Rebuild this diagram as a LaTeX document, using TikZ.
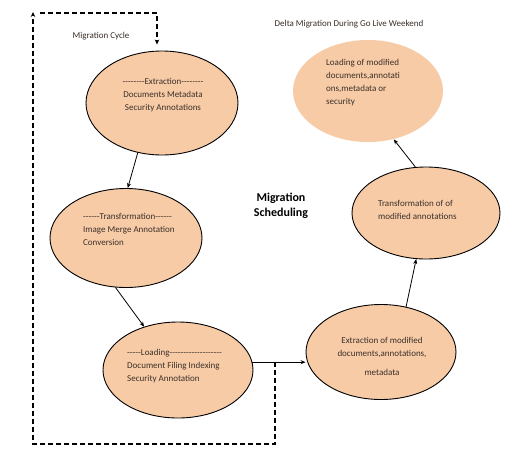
\documentclass[tikz,border=0pt]{standalone}
\usepackage{fontspec}
\setmainfont{Carlito}[Ligatures=TeXOff]
\usetikzlibrary{shapes.geometric,arrows.meta,calc}
\definecolor{peach}{HTML}{F8CBA7}
\definecolor{txt}{HTML}{3A3028}
\begin{document}
\begin{tikzpicture}[x=1pt,y=-1pt,
  bub/.style={ellipse,fill=peach,draw=black,line width=0.9pt,inner sep=0pt,minimum width=150pt,minimum height=100pt},
  bubnoline/.style={bub,draw=none},
  lbl/.style={inner sep=0pt,text=txt,font=\fontsize{9}{13}\selectfont},
  arr/.style={line width=0.8pt,-{Stealth[length=5pt,width=4pt]}},
  darr/.style={line width=1.2pt,dash pattern=on 5pt off 3pt,-{Stealth[length=5pt,width=4.5pt]}}]
\useasboundingbox (0,0) rectangle (510,460);
\fill[white] (0,0) rectangle (510,460);
% ellipses
\node[bub,minimum width=152pt,minimum height=104pt] (e1) at (162,103) {};
\node[bub,minimum width=152pt,minimum height=99pt] (e2) at (126,238) {};
\node[bub,minimum width=150pt,minimum height=96pt] (e3) at (178,370) {};
\node[bub,minimum width=150pt,minimum height=95pt] (e4) at (381,352) {};
\node[bub,minimum width=148pt,minimum height=92pt] (e5) at (426,213) {};
\node[bubnoline,minimum width=150pt,minimum height=102pt] (e6) at (368,91) {};
% texts
\node[lbl,align=center] (t1) at (163,95) {--------Extraction--------\\Documents Metadata\\Security Annotations};
\node[lbl,align=left,anchor=west] (t2) at (83,229) {------Transformation------\\Image Merge Annotation\\Conversion};
\node[lbl,align=left,anchor=west] (t3) at (127,366) {-----Loading-------------------\\Document Filing Indexing\\Security Annotation};
\node[lbl,align=center] (t4) at (382,356) {Extraction of modified\\documents,annotations,\\[6pt]metadata};
\node[lbl,align=left,anchor=west] (t5) at (378,210) {Transformation of of\\modified annotations};
\node[lbl,align=left,anchor=west] (t6) at (326,83) {Loading of modified\\documents,annotati\\ons,metadata or\\security};
\node[lbl] (cyc) at (101,36) {Migration Cycle};
\node[lbl] (delta) at (349,24) {Delta Migration During Go Live Weekend};
\node[lbl,align=center,font=\fontsize{12}{15}\selectfont\bfseries,text=black] (sched) at (281,206) {Migration\\Scheduling};
% solid connectors
\draw[arr] (e1.244) -- (e2.88);
\draw[arr] (e2.258) -- (e3.128);
\draw[arr] (e3.6) -- (e3.6 -| e4.west);
\draw[arr] (e4.61) -- (e5.258);
\draw[arr] (e5.103) -- (e6.298);
% dashed loop
\coordinate (d0) at (275,362);
\coordinate (d1) at (275,444);
\coordinate (d2) at (33,444);
\coordinate (d3) at (33,12);
\coordinate (d3b) at (40,13);
\coordinate (d4) at (157,13);
\draw[darr] (d0) -- (d1) -- (d2) -- (d3);
\draw[darr,shorten >=6pt] (d3b) -- (d4) -- (d4 |- e1.north);
\end{tikzpicture}
\end{document}
